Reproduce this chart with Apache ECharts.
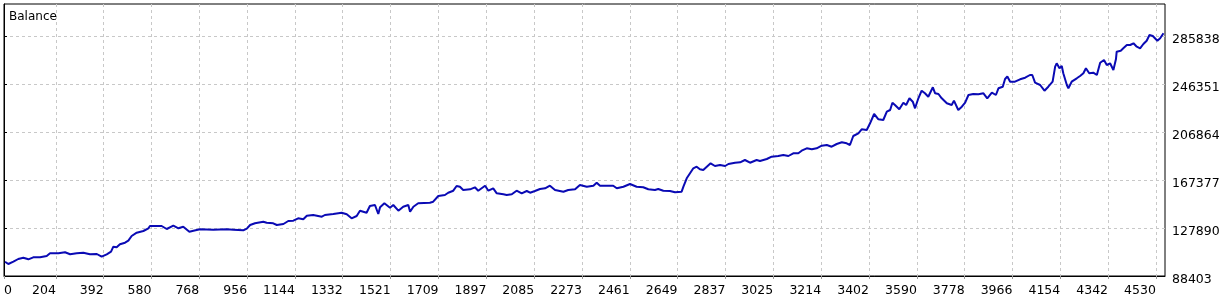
<!DOCTYPE html>
<html>
<head>
<meta charset="utf-8">
<style>
html,body{margin:0;padding:0;background:#fff;}
#chart{width:1230px;height:300px;}
</style>
<script src="https://cdn.jsdelivr.net/npm/echarts@6/dist/echarts.min.js"></script>
</head>
<body>
<div id="chart"></div>
<script>
var seriesName = 'Balance';
var xTickLabels = [0,204,392,580,768,956,1144,1332,1521,1709,1897,2085,2273,2461,2649,2837,3025,3214,3402,3590,3778,3966,4154,4342,4530];
var yTickLabels = [88403,127890,167377,206864,246351,285838];
var trades = [4,17,37,56,76,96,115,142,168,181,
214,240,260,286,312,338,365,384,404,421,
430,443,456,476,489,502,522,548,568,574,
620,640,666,686,705,729,745,771,823,876,
902,941,955,968,987,1020,1033,1059,1073,1099,
1118,1138,1157,1177,1191,1216,1250,1262,1295,1328,
1348,1367,1387,1400,1426,1439,1459,1472,1479,1496,
1518,1531,1551,1570,1590,1597,1610,1629,1675,1688,
1708,1734,1747,1767,1780,1793,1806,1833,1852,1865,
1892,1905,1924,1938,1964,1977,1997,2016,2036,2056,
2069,2088,2108,2128,2147,2167,2200,2219,2246,2265,
2292,2318,2331,2344,2396,2410,2436,2462,2488,2514,
2534,2560,2573,2593,2619,2639,2665,2672,2685,2698,
2711,2724,2737,2750,2764,2779,2796,2816,2836,2849,
2875,2895,2914,2934,2960,2973,3000,3019,3045,3065,
3085,3104,3124,3137,3157,3177,3196,3216,3236,3255,
3275,3295,3314,3327,3340,3360,3373,3393,3406,3422,
3439,3458,3472,3485,3494,3504,3521,3537,3548,3561,
3574,3583,3596,3609,3622,3635,3653,3662,3675,3688,
3708,3727,3736,3753,3767,3780,3793,3812,3832,3852,
3867,3885,3901,3911,3928,3937,3946,3957,3976,3996,
4016,4035,4044,4055,4075,4092,4107,4124,4134,4140,
4151,4160,4166,4180,4186,4199,4219,4232,4245,4255,
4268,4284,4298,4311,4326,4337,4350,4363,4373,4376,
4392,4402,4416,4429,4442,4455,4468,4481,4494,4505,
4518,4536,4547,4560];
var balances = [100167,98275,100167,102388,103458,102141,103787,103787,104856,107077,
107077,107900,106255,107077,107571,106255,106501,104280,106255,108393,
112507,112013,114481,115797,117443,121309,124024,125422,127643,129536,
129536,127068,129782,127643,128960,124846,125669,126821,126492,126821,
126492,125998,127314,130358,131757,133073,132250,131757,130358,131181,
133649,133896,135870,135047,138009,138585,137186,138585,139407,140477,
139161,135870,137762,142122,140477,145989,146811,139407,144919,148210,
144590,146811,142122,145413,146811,141299,145413,148210,148703,149526,
154215,155038,156930,158575,162442,161866,159151,159727,161372,158575,
162688,158575,160549,156436,155613,155038,155613,158575,156436,158328,
156930,158328,159974,160549,162688,159151,157752,159151,159727,163264,
161866,162688,165156,162688,162688,160549,161866,164087,161866,161372,
159727,159151,159974,158575,158328,157259,157752,161866,168776,172889,
177002,178319,176180,175604,178319,181116,178895,179717,178895,180540,
181609,181938,183830,181609,183830,183008,184653,186545,187121,187944,
187121,189342,189342,191481,193455,192633,193455,195594,196170,194772,
196993,198391,197569,196170,203574,205795,209086,208510,214022,221672,
217312,216736,223564,224963,230968,229076,225539,230968,229076,234588,
231791,226361,234588,240840,238701,235904,243637,238701,238125,234588,
230475,229076,232613,224963,227678,230968,237303,238125,237879,238701,
234588,239195,237303,242815,244131,250465,252522,248244,248244,250218,
251535,253756,253756,247421,245529,240840,244131,248244,260583,263381,
259267,261160,255154,245529,242815,248244,251041,252933,255154,259267,
255154,255648,253756,263874,266095,261982,263381,257869,266671,272923,
273746,275720,278435,278435,279834,277037,275720,279258,281972,286662,
285839,281972,283947,288060];

var xMin = 0, xMax = 4566;
var yMin = 88403, yMax = 312164;

var points = trades.map(function (t, i) { return [t, balances[i]]; });
var FONT = 'DejaVu Sans';
function plain(v) { return String(v); }
var chart = echarts.init(document.getElementById('chart'), null, {renderer: 'canvas'});
chart.setOption({
  animation: false,
  backgroundColor: '#ffffff',
  title: {
    text: seriesName,
    left: 9, top: 11, padding: 0,
    textStyle: {fontFamily: FONT, fontSize: 12, fontWeight: 'normal', color: '#000'}
  },
  grid: {
    left: 4, top: 4, right: 65, bottom: 24,
    show: true, borderColor: '#000', borderWidth: 1, backgroundColor: '#fff',
    containLabel: false
  },
  xAxis: {
    type: 'value', min: xMin, max: xMax,
    axisLine: {show: true, onZero: false, lineStyle: {color: '#000', width: 1}},
    axisTick: {show: true, length: 3, customValues: xTickLabels, lineStyle: {color: '#999'}},
    axisLabel: {
      customValues: xTickLabels, formatter: plain, align: 'right', alignMinLabel: 'left',
      margin: 8, fontFamily: FONT, fontSize: 12.5, color: '#000'
    },
    splitLine: {show: true, lineStyle: {color: '#c8c8c8', type: [3, 3], width: 1}}
  },
  yAxis: {
    type: 'value', position: 'right', min: yMin, max: yMax,
    axisLine: {show: true, lineStyle: {color: '#000', width: 1}},
    axisTick: {show: true, length: 3, customValues: yTickLabels, lineStyle: {color: '#000'}},
    axisLabel: {
      customValues: yTickLabels, formatter: plain, margin: 7,
      verticalAlign: 'top', lineHeight: 8,
      fontFamily: FONT, fontSize: 12.5, color: '#000'
    },
    splitLine: {show: true, lineStyle: {color: '#c8c8c8', type: [3, 3], width: 1}}
  },
  series: [{
    name: seriesName, type: 'line', data: points,
    showSymbol: false, symbol: 'none', clip: true,
    lineStyle: {color: '#0a0ab4', width: 2},
    z: 5
  }]
});
</script>
</body>
</html>
